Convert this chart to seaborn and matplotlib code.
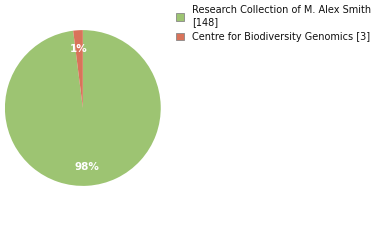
import matplotlib
matplotlib.use("Agg")
import matplotlib.pyplot as plt
import seaborn as sns

sns.set_style("white")
plt.rcParams['font.family'] = ['DejaVu Sans']

# data
labels = ["Research Collection of M. Alex Smith\n[148]", "Centre for Biodiversity Genomics [3]"]
counts = [148, 3]
colors = ["#9dc472", "#d9735a"]

fig = plt.figure(figsize=(3.8, 2.4), dpi=100)
ax = fig.add_axes([0.013, 0.225, 0.41, 0.65])

wedges, texts, autotexts = ax.pie(
    counts,
    colors=colors,
    startangle=90,
    counterclock=False,
    autopct=lambda p: f"{int(p)}%",
    pctdistance=0.76,
    wedgeprops=dict(linewidth=0),
    textprops=dict(color="white", fontsize=7.5, fontweight="semibold"),
)
ax.set_xlim(-1, 1)
ax.set_ylim(-1, 1)
ax.set_aspect("equal")

leg = fig.legend(
    wedges, labels,
    loc="upper left",
    bbox_to_anchor=(0.44, 1.015),
    frameon=False,
    fontsize=7,
    handlelength=0.8,
    handleheight=0.8,
    handletextpad=0.9,
    labelspacing=0.45,
)
for t in leg.get_texts():
    t.set_color("#111111")
    t.set_linespacing(1.3)
for h in leg.legend_handles:
    h.set_edgecolor("#888888")
    h.set_linewidth(0.6)

plt.savefig("out.png", dpi=100)
